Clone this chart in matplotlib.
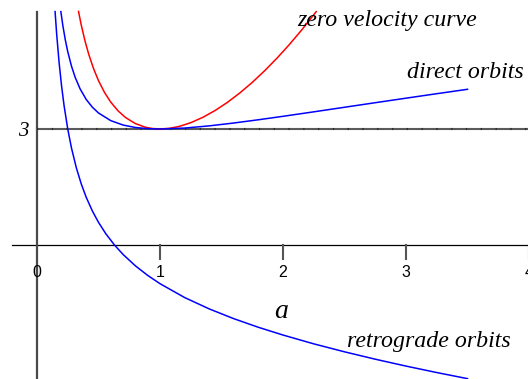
import matplotlib
matplotlib.use('Agg')
import matplotlib.pyplot as plt


# semimajor axis a and Tisserand parameter T along each curve
a_direct = [0.194, 0.21, 0.23, 0.25, 0.28, 0.31, 0.35, 0.40, 0.45, 0.50, 0.6, 0.7, 0.8, 0.9, 1.0,
	1.2, 1.4, 1.6, 1.8, 2.0, 2.25, 2.5, 2.75, 3.0, 3.25, 3.5]
t_direct = [6.036, 5.678, 5.307, 5.0, 4.630, 4.339, 4.040, 3.765, 3.564, 3.414, 3.216, 3.102, 3.039, 3.009, 3.0,
	3.024, 3.081, 3.155, 3.239, 3.328, 3.444, 3.562, 3.680, 3.797, 3.913, 4.027]

a_retro = [0.147, 0.16, 0.18, 0.20, 0.22, 0.25, 0.28, 0.32, 0.36, 0.40, 0.45, 0.50, 0.56, 0.63, 0.70, 0.80, 0.90, 1.0,
	1.2, 1.4, 1.6, 1.8, 2.0, 2.25, 2.5, 2.75, 3.0, 3.25, 3.5]
t_retro = [6.036, 5.45, 4.707, 4.106, 3.607, 3.0, 2.513, 1.994, 1.578, 1.235, 0.881, 0.586, 0.289, 0.0, -0.245, -0.539, -0.786, -1.0,
	-1.358, -1.652, -1.905, -2.128, -2.328, -2.556, -2.762, -2.953, -3.131, -3.298, -3.456]

a_zero = [0.3375, 0.36, 0.39, 0.42, 0.46, 0.50, 0.55, 0.60, 0.66, 0.72, 0.80, 0.88, 0.94, 1.0,
	1.08, 1.16, 1.25, 1.35, 1.45, 1.55, 1.65, 1.75, 1.85, 1.95, 2.05, 2.15, 2.27]
t_zero = [6.040, 5.685, 5.280, 4.938, 4.559, 4.25, 3.939, 3.693, 3.466, 3.296, 3.14, 3.047, 3.011, 3.0,
	3.018, 3.070, 3.163, 3.304, 3.482, 3.693, 3.935, 4.205, 4.504, 4.828, 5.178, 5.553, 6.034]

x_ticks = [0, 1, 2, 3, 4]
t_ref = 3


def main():
	fig = plt.figure(figsize=(5.28, 3.79), dpi=100)
	ax = fig.add_axes([0, 0, 1, 1])
	ax.set_xlim(-0.3008, 3.9919)
	ax.set_ylim(-3.465, 6.336)
	ax.axis('off')

	serif = {'family': 'Liberation Serif', 'style': 'italic'}

	# axes drawn by hand, maple style
	ax.plot([-0.203, 4.2], [0, 0], color='black', lw=0.9, zorder=1)
	ax.plot([0, 0], [-4, 6.03], color='#4a4a4a', lw=1.6, zorder=1)
	ax.plot([0, 4.2], [t_ref, t_ref], color='#5a5a5a', lw=1.5, zorder=1)
	ax.plot([0, 4.2], [t_ref, t_ref], color='#2a2a2a', lw=1.5, ls=(0, (0.6, 6.5)), zorder=1)

	for x in x_ticks:
		if x != 0:
			ax.plot([x, x], [0, -0.37], color='#555555', lw=1.5, zorder=1)
		ax.text(x, -0.72, str(x), ha='center', va='center', fontsize=11.5,
			family='Liberation Sans')

	ax.text(-0.11, 2.82, str(t_ref), ha='center', va='baseline', fontsize=15, **serif)

	ax.plot(a_zero, t_zero, color='#ff0000', lw=1.1, zorder=3)
	ax.plot(a_direct, t_direct, color='#0000ff', lw=1.1, zorder=4)
	ax.plot(a_retro, t_retro, color='#0000ff', lw=1.1, zorder=4)

	ax.text(2.846, 5.67, 'zero velocity curve', ha='center', va='baseline', fontsize=17.2, **serif)
	ax.text(3.482, 4.32, 'direct orbits', ha='center', va='baseline', fontsize=17.2, **serif)
	ax.text(1.984, -1.9, 'a', ha='center', va='baseline', fontsize=20, **serif)
	ax.text(3.189, -2.65, 'retrograde orbits', ha='center', va='baseline', fontsize=17.2, **serif)

	fig.savefig('out.png', dpi=100)


if __name__ == '__main__':
	main()
